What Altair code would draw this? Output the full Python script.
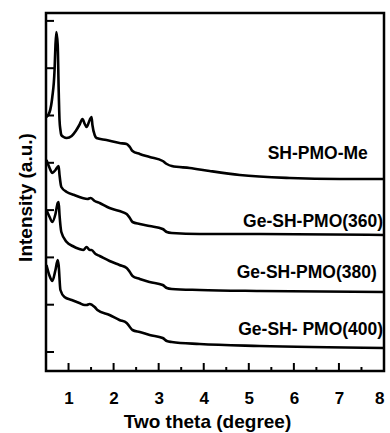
import altair as alt
import pandas as pd

# Two theta (degree) and offset intensity (a.u.)
me_x = [0.51, 0.58, 0.64, 0.69, 0.71, 0.73, 0.76, 0.78, 0.80, 0.82, 0.84, 0.89, 0.96, 1.07, 1.16, 1.24,
        1.31, 1.36, 1.40, 1.47, 1.51, 1.53, 1.58, 1.62, 1.84, 2.13, 2.29, 2.36, 2.42, 2.58, 2.80, 3.09,
        3.18, 3.29, 3.69, 4.13, 4.80, 5.91, 7.02, 8.0]
me_y = [254, 259, 274, 301, 326, 339, 326, 284, 251, 241, 236, 234, 233, 235, 240, 246,
        252, 247, 244, 251, 254, 246, 236, 233, 231, 228, 227, 224, 220, 217, 214, 210,
        207, 205, 203, 200, 196, 193, 192, 192]

s360_x = [0.51, 0.58, 0.64, 0.71, 0.78, 0.80, 0.84, 0.96, 1.13, 1.31, 1.42, 1.49, 1.58, 1.69, 1.91, 2.13,
          2.29, 2.36, 2.42, 2.58, 2.80, 3.09, 3.18, 3.29, 3.91, 5.24, 8.0]
s360_y = [211, 203, 198, 201, 205, 196, 184, 179, 176, 173, 172, 173, 170, 168, 163, 160,
          157, 153, 149, 147, 145, 142, 139, 138, 137, 137, 136]

s380_x = [0.51, 0.58, 0.64, 0.71, 0.76, 0.78, 0.80, 0.84, 0.96, 1.09, 1.24, 1.33, 1.40, 1.47, 1.51, 1.60,
          1.69, 1.91, 2.13, 2.29, 2.36, 2.42, 2.58, 2.80, 3.09, 3.18, 3.29, 3.91, 5.24, 8.0]
s380_y = [161, 154, 149, 157, 168, 169, 156, 139, 129, 125, 122, 121, 124, 121, 121, 117,
          115, 110, 106, 103, 99, 95, 92, 89, 86, 83, 82, 81, 80, 79]

s400_x = [0.51, 0.58, 0.64, 0.71, 0.76, 0.78, 0.82, 0.91, 1.07, 1.24, 1.36, 1.40, 1.47, 1.58, 1.64, 1.91,
          2.13, 2.29, 2.36, 2.42, 2.58, 2.80, 3.09, 3.18, 3.29, 3.91, 5.24, 8.0]
s400_y = [106, 95, 90, 101, 111, 106, 81, 74, 71, 68, 66, 66, 67, 64, 61, 56,
          51, 48, 44, 41, 39, 36, 33, 30, 29, 27, 25, 23]

series_names = ["SH-PMO-Me", "Ge-SH-PMO(360)", "Ge-SH-PMO(380)", "Ge-SH- PMO(400)"]
label_x = [7.64, 7.98, 7.84, 7.98]
label_y = [217, 149, 98, 41]

x_major = [1, 2, 3, 4, 5, 6, 7, 8]
x_minor = [1.5, 2.5, 3.5, 4.5, 5.5, 6.5, 7.5]
y_ticks = [19, 66.3, 113.6, 160.9, 208.2, 255.5, 302.8, 350.1]

rows = []
for name, xs_, ys_ in zip(series_names, [me_x, s360_x, s380_x, s400_x], [me_y, s360_y, s380_y, s400_y]):
    for a, b in zip(xs_, ys_):
        rows.append({"series": name, "x": a, "y": b})
df = pd.DataFrame(rows)
lab = pd.DataFrame({"label": series_names, "x": label_x, "y": label_y})

FONT = "Liberation Sans"
xs = alt.Scale(domain=[0.5, 8], nice=False, zero=False)
ysc = alt.Scale(domain=[0, 358], nice=False, zero=False)
H = 358

xaxis = alt.Axis(values=x_major, format="d", tickSize=0, domain=False, grid=False,
                 labelFont=FONT, labelFontSize=17, labelFontWeight="bold",
                 labelColor="black", labelPadding=19,
                 title="Two theta (degree)", titleFont=FONT, titleFontSize=19,
                 titleFontWeight="bold", titleColor="black", titlePadding=6, titleX=161)
yaxis = alt.Axis(labels=False, ticks=False, domain=False, grid=False,
                 title="Intensity (a.u.)", titleFont=FONT, titleFontSize=19,
                 titleFontWeight="bold", titleColor="black", titlePadding=11, titleY=184)


def X(field):
    return alt.X(field, scale=xs, axis=xaxis, title="Two theta (degree)")


def Y(field):
    return alt.Y(field, scale=ysc, axis=yaxis, title="Intensity (a.u.)")


lines = alt.Chart(df).mark_line(color="black", strokeWidth=2.6, interpolate="monotone", clip=True).encode(
    x=X("x:Q"), y=Y("y:Q"), detail="series:N")

xmaj = alt.Chart(pd.DataFrame({"x": x_major})).mark_rule(color="black", strokeWidth=2).encode(
    x=X("x:Q"), y=alt.value(H), y2=alt.value(H - 8))
xmin = alt.Chart(pd.DataFrame({"x": x_minor})).mark_rule(color="black", strokeWidth=2).encode(
    x=X("x:Q"), y=alt.value(H), y2=alt.value(H - 4))
ytk = alt.Chart(pd.DataFrame({"y": y_ticks})).mark_rule(color="black", strokeWidth=2).encode(
    y=Y("y:Q"), x=alt.value(0), x2=alt.value(8))

labels = alt.Chart(lab).mark_text(align="right", baseline="middle", font=FONT, fontSize=17.5,
                                  fontWeight="bold", color="black").encode(
    x=X("x:Q"), y=Y("y:Q"), text="label:N")

chart = alt.layer(lines, xmaj, xmin, ytk, labels).properties(
    width=338, height=358,
    padding={"left": 46, "top": 13, "right": 6, "bottom": 62},
    autosize=alt.AutoSizeParams(type="none"),
    background="white",
).configure_view(stroke="black", strokeWidth=2.5)

chart.save("out.html", embed_options={"renderer": "svg", "actions": False})
